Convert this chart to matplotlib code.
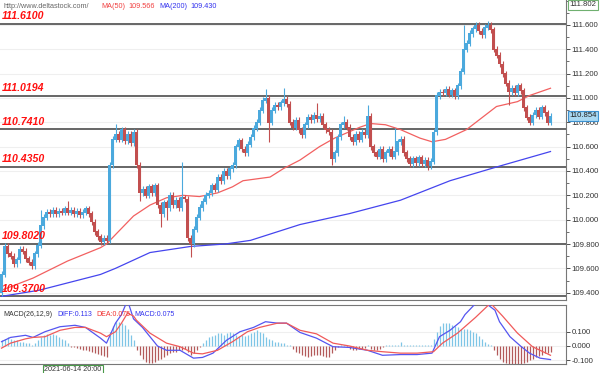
import numpy as np
import matplotlib.pyplot as plt
from matplotlib.ticker import FixedLocator, MultipleLocator, FuncFormatter

# ---- data (bar index = time) ----
first_open = 109.40
closes = [
    109.55, 109.78, 109.72, 109.70, 109.64, 109.67, 109.76, 109.74, 109.68, 109.65,
    109.62, 109.72, 109.79, 109.95, 110.02, 110.06, 110.05, 110.08, 110.05, 110.07,
    110.06, 110.09, 110.06, 110.08, 110.05, 110.07, 110.04, 110.06, 110.09, 110.05,
    109.98, 109.90, 109.86, 109.82, 109.85, 109.83, 110.45, 110.66, 110.70, 110.66,
    110.74, 110.65, 110.70, 110.63, 110.72, 110.45, 110.22, 110.25, 110.20, 110.27,
    110.22, 110.28, 110.12, 110.05, 110.14, 110.10, 110.20, 110.12, 110.16, 110.10,
    110.18, 110.17, 109.85, 109.80, 109.92, 110.02, 110.10, 110.15, 110.20, 110.22,
    110.28, 110.25, 110.35, 110.32, 110.40, 110.36, 110.42, 110.45, 110.60, 110.65,
    110.58, 110.55, 110.62, 110.68, 110.75, 110.80, 110.90, 110.98, 111.00, 110.80,
    110.90, 110.94, 110.93, 110.96, 110.99, 110.95, 110.80, 110.76, 110.82, 110.74,
    110.70, 110.78, 110.84, 110.82, 110.86, 110.83, 110.85, 110.78, 110.74, 110.72,
    110.50, 110.55, 110.68, 110.78, 110.80, 110.76, 110.68, 110.64, 110.70, 110.66,
    110.72, 110.70, 110.85, 110.60, 110.55, 110.52, 110.58, 110.50, 110.55, 110.58,
    110.52, 110.56, 110.64, 110.66, 110.55, 110.50, 110.46, 110.50, 110.47, 110.51,
    110.46, 110.49, 110.44, 110.48, 110.72, 111.02, 111.05, 111.04, 111.07, 111.03,
    111.06, 111.02, 111.10, 111.22, 111.40, 111.45, 111.53, 111.57, 111.60, 111.55,
    111.52, 111.58, 111.60, 111.56, 111.40, 111.35, 111.28, 111.20, 111.12, 111.05,
    111.08, 111.04, 111.10, 111.06, 110.92, 110.84, 110.80, 110.86, 110.90, 110.85,
    110.92, 110.88, 110.80, 110.85,
]
spike_high = {1: 109.81, 13: 110.08, 22: 110.15, 38: 110.79, 60: 110.47, 88: 111.07,
              94: 111.08, 105: 110.96, 114: 110.85, 122: 110.94, 131: 110.75,
              154: 111.60, 162: 111.63}
spike_low = {46: 110.15, 53: 109.94, 55: 110.00, 63: 109.69, 89: 110.64, 110: 110.45,
             142: 110.41, 169: 110.94, 176: 110.78, 182: 110.78}

ma50_x = [0, 10.5, 22, 33, 35, 38.5, 44, 49.5, 55, 60.5, 66, 72, 77, 80.5, 89.5, 94,
          99.5, 106, 111, 119.5, 123, 128, 133, 139.5, 143.5, 148, 155, 165, 172, 176, 183]
ma50_y = [109.42, 109.52, 109.66, 109.77, 109.80, 109.89, 110.03, 110.12, 110.18, 110.20,
          110.19, 110.22, 110.27, 110.32, 110.35, 110.42, 110.49, 110.60, 110.67, 110.76,
          110.79, 110.78, 110.74, 110.67, 110.64, 110.66, 110.74, 110.93, 110.97, 111.02, 111.08]
ma200_x = [0, 12.5, 33, 38, 49.5, 63, 74.5, 83, 99.5, 116, 133, 149.5, 166, 183]
ma200_y = [109.37, 109.42, 109.55, 109.60, 109.73, 109.78, 109.80, 109.83, 109.96,
           110.05, 110.16, 110.32, 110.44, 110.56]

levels = [111.6100, 111.0194, 110.7410, 110.4350, 109.8020, 109.3700]
price_ticks = [109.4, 109.6, 109.8, 110.0, 110.2, 110.4, 110.6, 110.8, 111.0, 111.2, 111.4, 111.6]

macd_hist = (
    [0.04, 0.05, 0.06, 0.05, 0.04, 0.04, 0.03, 0.03, 0.02]
    + [0.02, 0.01, 0.02]
    + [0.04, 0.06, 0.08, 0.085, 0.08, 0.085, 0.075]
    + [0.06, 0.05, 0.04]
    + [0.02, -0.005, -0.01, -0.015, -0.02, -0.025, -0.03, -0.035, -0.04, -0.05, -0.055, -0.06, -0.07, -0.075]
    + [0.10, 0.14, 0.17, 0.17, 0.16, 0.15]
    + [0.12, 0.08, 0.04]
    + [-0.03, -0.06, -0.09, -0.11, -0.12, -0.12, -0.11, -0.10, -0.09, -0.08]
    + [-0.06, -0.05, -0.04, -0.04, -0.03, -0.03, -0.02]
    + [-0.04, -0.06, -0.05, -0.03, -0.01]
    + [0.02, 0.04, 0.06, 0.07, 0.08, 0.09, 0.09, 0.08, 0.09, 0.10]
    + [0.09, 0.08, 0.07, 0.08, 0.07, 0.08, 0.09, 0.10, 0.11, 0.10, 0.09]
    + [0.06, 0.05, 0.04, 0.03, 0.03, 0.02, 0.02, 0.01, 0.005]
    + [-0.02, -0.04, -0.05, -0.06, -0.07, -0.075, -0.07, -0.065, -0.06, -0.065, -0.07, -0.08, -0.075]
    + [-0.05, -0.03, -0.01, 0.01, 0.01, -0.01, -0.02, -0.03, -0.025, -0.02, -0.02, -0.015, 0.005, -0.02, -0.03, -0.025, -0.02, -0.01]
    + [0.005, 0.005, 0.01, 0.005, 0.01, 0.03, 0.01, 0.005, 0.005, 0.005, 0.01, 0.005, 0.005, 0.005, 0.005, 0.01]
    + [0.05, 0.10, 0.14, 0.16, 0.16, 0.16, 0.15, 0.14]
    + [0.13, 0.12, 0.12, 0.12, 0.11, 0.10, 0.09, 0.07, 0.05]
    + [0.03, 0.015, 0.005]
    + [-0.03, -0.06, -0.09, -0.11, -0.12, -0.13, -0.13, -0.13, -0.13, -0.13, -0.12, -0.11, -0.10, -0.09, -0.08, -0.07, -0.06, -0.05, -0.05, -0.04]
)
diff_x = [0, 3, 8, 10.5, 14.5, 19.5, 24.5, 28, 33, 35, 38, 40, 42, 44, 47, 52, 55, 59.5,
          64, 67, 70.5, 75, 79.5, 84, 88, 92, 95, 99.5, 105, 110.5, 116, 122, 127, 133,
          138.5, 143.5, 146, 149.5, 153, 154.5, 159.5, 164.5, 166, 169.5, 173, 176, 179.5, 183]
diff_y = [0.03, 0.06, 0.075, 0.06, 0.10, 0.135, 0.145, 0.13, 0.055, 0.02, 0.16, 0.22,
          0.32, 0.19, 0.13, 0.0, -0.03, -0.03, -0.085, -0.08, -0.05, 0.04, 0.10, 0.13,
          0.17, 0.16, 0.16, 0.095, 0.055, -0.005, -0.01, -0.03, -0.065, -0.06, -0.06,
          -0.05, 0.065, 0.11, 0.17, 0.22, 0.33, 0.25, 0.17, 0.065, 0.0, -0.05, -0.085, -0.095]
dea_x = [0, 3, 8, 10.5, 14.5, 19.5, 24.5, 28, 33, 35, 38, 40, 42, 44, 45, 49.5, 55, 59.5,
         64, 67, 72, 77, 82, 86, 92, 95, 99.5, 105, 110.5, 116, 122, 127, 133, 138.5,
         144, 147, 152, 155, 158, 163, 167, 172, 177, 183]
dea_y = [-0.015, 0.02, 0.05, 0.06, 0.065, 0.11, 0.13, 0.13, 0.09, 0.065, 0.10, 0.16,
         0.23, 0.21, 0.18, 0.09, 0.02, -0.005, -0.05, -0.055, -0.03, 0.03, 0.10, 0.13,
         0.16, 0.16, 0.11, 0.085, 0.02, 0.0, -0.03, -0.04, -0.05, -0.05, -0.04, 0.02,
         0.09, 0.145, 0.20, 0.30, 0.21, 0.09, -0.005, -0.065]

# ---- build candles ----
n = len(closes)
idx = np.arange(n)
c = np.array(closes)
o = np.concatenate([[first_open], c[:-1]])
hi = np.maximum(o, c) + 0.025
lo = np.minimum(o, c) - 0.025
for k, v in spike_high.items():
    hi[k] = v
for k, v in spike_low.items():
    lo[k] = v
up = c >= o

BLUE = '#4ba9dd'
RED = '#c24f4f'
FONT = 'Liberation Sans'

fig = plt.figure(figsize=(6, 3.73), dpi=100)
W, H = 600, 373
ax = fig.add_axes([0, 1 - 300 / H, 566 / W, 300 / H])
ax2 = fig.add_axes([0, 1 - 364 / H, 566 / W, 59 / H])

xl = (-0.5, (566 - 1.5) / 3)
ax.set_xlim(*xl)
ax.set_ylim(109.34, 111.805)

# grid
for g in price_ticks:
    ax.axhline(g, color='#efefef', lw=0.8, zorder=0)

# levels
for lv in levels:
    ax.axhline(lv, color='#5a5a5a', lw=1.3, zorder=1)
    ax.annotate(f'{lv:.4f}', xy=(0.004, lv), xycoords=('axes fraction', 'data'),
                xytext=(0, 2), textcoords='offset points', va='bottom', ha='left',
                color='#ff1010', fontsize=7.6, fontweight='bold', fontstyle='italic',
                family=FONT, zorder=5)

# candles
ax.vlines(idx, lo, hi, colors=np.where(up, BLUE, RED), lw=0.8, zorder=3)
ax.bar(idx, np.abs(c - o) + 0.006, bottom=np.minimum(o, c) - 0.003, width=0.7,
       color=np.where(up, BLUE, RED), lw=0, zorder=3)

# moving averages
ax.plot(ma50_x, ma50_y, color='#f26060', lw=0.9, zorder=2)
ax.plot(ma200_x, ma200_y, color='#4545ee', lw=0.9, zorder=2)

# right price axis
ax.yaxis.tick_right()
ax.yaxis.set_major_locator(FixedLocator(price_ticks))
ax.yaxis.set_minor_locator(MultipleLocator(0.1))
ax.yaxis.set_major_formatter(FuncFormatter(lambda v, p: f'{v:.3f}'))
ax.tick_params(axis='y', which='major', length=3, width=0.6, labelsize=5.6,
               colors='#333333', pad=1)
ax.tick_params(axis='y', which='minor', length=2, width=0.6, colors='#555555')
for lab in ax.get_yticklabels():
    lab.set_family(FONT)
ax.tick_params(axis='x', bottom=False, labelbottom=False)
for s in ['left', 'top']:
    ax.spines[s].set_visible(False)
ax.spines['right'].set_color('#777777')
ax.spines['bottom'].set_color('#777777')

bb = dict(boxstyle='square,pad=0.2', fc='white', ec='#70b070', lw=0.8)
ax.text(1.006, 111.765, '111.802', transform=ax.get_yaxis_transform(), fontsize=5.6,
        family=FONT, va='center', ha='left', color='#333333', bbox=bb, clip_on=False)
bb2 = dict(boxstyle='square,pad=0.2', fc='#a9d8f2', ec='#3a90d0', lw=0.8)
ax.text(1.006, 110.854, '110.854', transform=ax.get_yaxis_transform(), fontsize=5.6,
        family=FONT, va='center', ha='left', color='#222222', bbox=bb2, clip_on=False)

# header
hy = 1 - 6 / H
fig.text(3 / W, hy, 'http://www.deltastock.com/', fontsize=5.2, color='#666666',
         va='center', family=FONT)
fig.text(101 / W, hy, 'MA(50)', fontsize=5.2, color='#f04040', va='center', family=FONT)
fig.text(128 / W, hy, '109.566', fontsize=5.2, color='#f04040', va='center', family=FONT)
fig.text(159 / W, hy, 'MA(200)', fontsize=5.2, color='#3333ee', va='center', family=FONT)
fig.text(190 / W, hy, '109.430', fontsize=5.2, color='#3333ee', va='center', family=FONT)

# ---- MACD panel ----
ax2.set_xlim(*xl)
ax2.set_ylim(-0.126, 0.287)
for g in [0.1, 0.0, -0.1]:
    ax2.axhline(g, color='#efefef', lw=0.8, zorder=0)
h = np.array(macd_hist)
ax2.vlines(idx, 0, h, colors=np.where(h >= 0, '#7ec5e6', '#b35a5a'), lw=0.9, zorder=2)
ax2.plot(diff_x, diff_y, color='#5555f0', lw=0.9, zorder=3)
ax2.plot(dea_x, dea_y, color='#f05a5a', lw=0.9, zorder=3)
ax2.yaxis.tick_right()
ax2.set_yticks([0.1, 0.0, -0.1])
ax2.set_yticklabels(['0.100', '0.000', '-0.100'], family=FONT)
ax2.tick_params(axis='y', length=3, width=0.6, labelsize=5.6, colors='#333333', pad=1)
ax2.tick_params(axis='x', bottom=False, labelbottom=False)
ax2.spines['left'].set_visible(False)
for s in ['right', 'top', 'bottom']:
    ax2.spines[s].set_color('#777777')

my = 1 - 314 / H
fig.text(3 / W, my, 'MACD(26,12,9)', fontsize=5.0, color='#333333', va='center', family=FONT)
fig.text(57 / W, my, 'DIFF:0.113', fontsize=5.0, color='#3333ee', va='center', family=FONT)
fig.text(96 / W, my, 'DEA:0.075', fontsize=5.0, color='#f03030', va='center', family=FONT)
fig.text(134 / W, my, 'MACD:0.075', fontsize=5.0, color='#3333ee', va='center', family=FONT)

# time box at bottom
fig.text(73 / W, 1 - 369.5 / H, '2021-06-14 20:00', fontsize=5.2, color='#333333',
         ha='center', va='center', family=FONT,
         bbox=dict(boxstyle='square,pad=0.15', fc='white', ec='#4a9a4a', lw=0.8))

fig.savefig('out.png', dpi=100)
